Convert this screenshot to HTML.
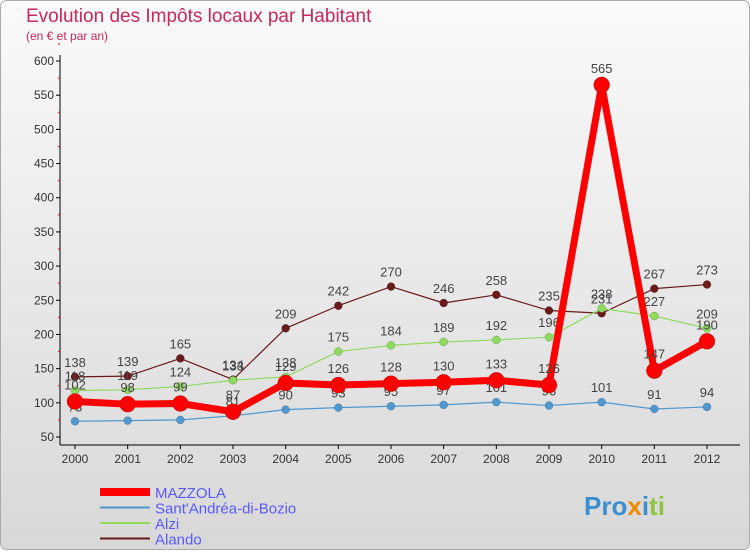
<!DOCTYPE html>
<html><head><meta charset="utf-8">
<style>
body{margin:0;width:750px;height:550px;overflow:hidden;font-family:"Liberation Sans",sans-serif;}
</style></head>
<body>
<svg width="750" height="550" xmlns="http://www.w3.org/2000/svg">
<defs>
<linearGradient id="bg" x1="0" y1="0" x2="0" y2="1"><stop offset="0" stop-color="#fafafa"/><stop offset="1" stop-color="#d8d8d8"/></linearGradient>
</defs>
<rect x="0.5" y="0.5" width="749" height="549" rx="6" fill="url(#bg)" stroke="#aaa"/>
<text x="26" y="22" font-size="19" fill="#c8285a">Evolution des Impôts locaux par Habitant</text>
<text x="26" y="40" font-size="12" fill="#c8285a">(en € et par an)</text>
<g id="axes"></g>
<g id="series"></g>
<g id="legend"></g>
<text x="584" y="515" font-size="26" font-weight="bold" fill="#3a8fd0">Pro<tspan fill="#f08a00">x</tspan><tspan fill="#3a8fd0">i</tspan><tspan fill="#8cc63f">ti</tspan></text>
</svg>
<script>
const years=["2000","2001","2002","2003","2004","2005","2006","2007","2008","2009","2010","2011","2012"];
const yTicks=[50,100,150,200,250,300,350,400,450,500,550,600];
const mazzola=[102,98,99,87,129,126,128,130,133,126,565,147,190];
const santAndrea=[73,74,75,81,90,93,95,97,101,96,101,91,94];
const alzi=[118,119,124,133,138,175,184,189,192,196,238,227,209];
const alando=[138,139,165,134,209,242,270,246,258,235,231,267,273];
const NS="http://www.w3.org/2000/svg";
const X=i=>75+i*(707-75)/12;
const Y=v=>437-(v-50)*(376/550);
function mk(t,a,p){const e=document.createElementNS(NS,t);for(const k in a)e.setAttribute(k,a[k]);p.appendChild(e);return e;}
const ax=document.getElementById('axes');
const yl=mk('line',{x1:60,y1:55,x2:60,y2:445,stroke:'#000'},ax);


const xl=mk('line',{x1:60,y1:445,x2:740,y2:445,stroke:'#000'},ax);


yTicks.forEach(v=>{
 mk('line',{x1:56,y1:Y(v),x2:60,y2:Y(v),stroke:'#000'},ax);
 mk('line',{x1:58,y1:Y(v+25),x2:60,y2:Y(v+25),stroke:'#e00'},ax);
 const t=mk('text',{x:54,y:Y(v)+4,'font-size':12,'text-anchor':'end',fill:'#333'},ax);
 t.textContent=v;
 
 
});
years.forEach((y,i)=>{
 mk('line',{x1:X(i),y1:445,x2:X(i),y2:449,stroke:'#000'},ax);
 const t=mk('text',{x:X(i),y:463,'font-size':12,'text-anchor':'middle',fill:'#333'},ax);
 t.textContent=y;
 
 
});
const sg=document.getElementById('series');
function series(data,color,w,r,name,dy){
 const g=mk('g',{},sg);
 
 
 mk('polyline',{points:data.map((v,i)=>X(i)+','+Y(v)).join(' '),fill:'none',stroke:color,'stroke-width':w,'stroke-linejoin':'round'},g);
 data.forEach((v,i)=>{
  const c=mk('circle',{cx:X(i),cy:Y(v),r:r,fill:color,stroke:'rgba(0,0,0,0.3)','stroke-width':0.5},g);
  
  
  const t=mk('text',{x:X(i),y:Y(v)-dy,'font-size':13,'text-anchor':'middle',fill:'#444'},g);
  t.textContent=v;
  
  
 });
}
series(alando,'#6b1a1a',1.2,4,'alando-line',10);
series(alzi,'#8edb5e',1.2,4,'alzi-line',10);
series(santAndrea,'#4f98d0',1.2,4,'sant-andrea-line',10);
series(mazzola,'#ff0000',7,8,'mazzola-line',12);
const lg=document.getElementById('legend');
const items=[['MAZZOLA','#ff0000',8],["Sant'Andréa-di-Bozio",'#4f98d0',2],['Alzi','#8edb5e',2],['Alando','#6b1a1a',2]];
items.forEach((it,k)=>{
 const y=492+k*15.5;
 const g=mk('g',{},lg);
 
 
 mk('line',{x1:100,y1:y,x2:150,y2:y,stroke:it[1],'stroke-width':it[2]},g);
 const t=mk('text',{x:155,y:y+6,'font-size':15,fill:'#5a5aff'},g);
 t.textContent=it[0];
});
</script>
</body></html>
